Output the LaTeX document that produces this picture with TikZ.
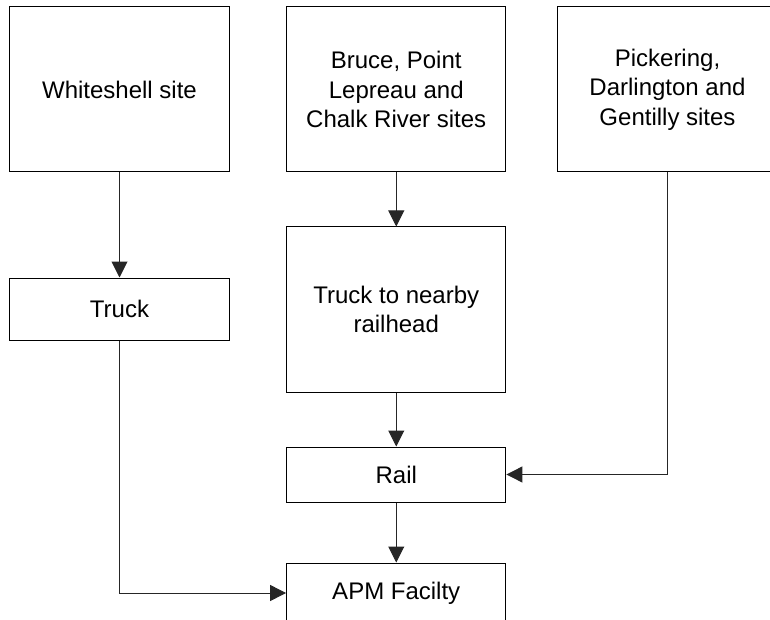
\documentclass[tikz,border=0pt]{standalone}
\usepackage{fontspec}
\setmainfont{Liberation Sans}
\usetikzlibrary{arrows.meta}
\begin{document}
\begin{tikzpicture}[x=0.75pt,y=-0.75pt,
  box/.style={draw=black, line width=0.75pt, fill=white, inner sep=0pt, align=center,
    minimum width=164.5pt, font=\fontsize{18pt}{22pt}\selectfont},
  conn/.style={draw=black!85, line width=0.75pt, -{Triangle[length=12pt,width=12pt]}}]
\useasboundingbox (0,0) rectangle (770,620);
\clip (0,0) rectangle (770,620);
\node[box, minimum height=123.75pt] (ws) at (119.5,89.5) {Whiteshell site};
\node[box, minimum height=123.75pt] (bp) at (396.25,89.5) {Bruce, Point\\Lepreau and\\Chalk River sites};
\node[box, minimum height=123.75pt] (pd) at (667.5,89.5) {Pickering,\\Darlington and\\Gentilly sites};
\node[box, minimum height=46.5pt] (tr) at (119.5,309) {Truck};
\node[box, minimum height=123.75pt] (tn) at (396.25,309.5) {Truck to nearby\\railhead};
\node[box, minimum height=41.25pt] (rl) at (396.25,474.5) {Rail};
\node[box, minimum height=45pt] (apm) at (396.25,593) {APM Facilty};
\draw[conn] (ws.south) -- (tr.north);
\draw[conn] (bp.south) -- (tn.north);
\draw[conn] (tn.south) -- (rl.north);
\draw[conn] (rl.south) -- (apm.north);
\draw[conn] (pd.south) |- (rl.east);
\draw[conn] (tr.south) |- (apm.west);
\end{tikzpicture}
\end{document}
